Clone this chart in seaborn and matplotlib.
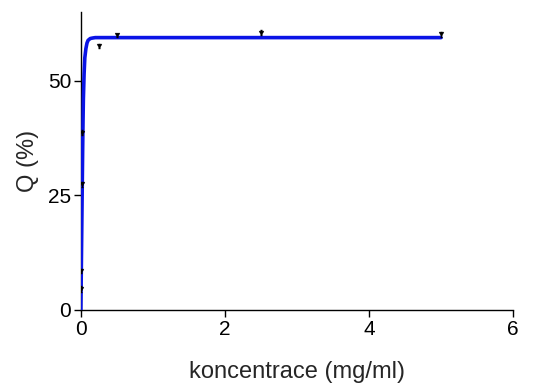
import numpy as np
import pandas as pd
import matplotlib
matplotlib.use("Agg")
import matplotlib.pyplot as plt
import seaborn as sns

# measured points
conc = [0.005, 0.008, 0.012, 0.018, 0.25, 0.5, 2.5, 5.0]
q_meas = [4.6, 8.5, 27.4, 38.7, 57.6, 59.9, 60.5, 60.1]
q_err = [0.6, 0.5, 0.6, 0.6, 0.4, 0.3, 0.5, 0.6]

# fitted curve
fit_x = [0.0, 0.005, 0.01, 0.015, 0.02, 0.025, 0.03, 0.035, 0.045, 0.055,
         0.07, 0.085, 0.1, 0.13, 0.16, 0.2, 0.3, 0.5, 1.0, 2.0, 5.0]
fit_y = [0.0, 7.0, 14.0, 21.0, 28.0, 35.0, 41.0, 46.0, 51.5, 55.0,
         57.0, 58.2, 58.8, 59.2, 59.3, 59.4, 59.4, 59.4, 59.4, 59.4, 59.4]

sns.set_style("ticks")
plt.rcParams['font.family'] = ['Liberation Sans', 'DejaVu Sans']

fig = plt.figure(figsize=(5.39, 3.85), dpi=100)
ax = fig.add_axes([0.150, 0.195, 0.802, 0.774])

fit_df = pd.DataFrame({"c": fit_x, "Q": fit_y})
pts_df = pd.DataFrame({"c": conc, "Q": q_meas})

sns.lineplot(data=fit_df, x="c", y="Q", ax=ax, color="#0a14e6", linewidth=2.6, zorder=3)
ax.errorbar(conc, q_meas, yerr=q_err, fmt="none", ecolor="black", elinewidth=0.8, capsize=1, zorder=4)
sns.scatterplot(data=pts_df, x="c", y="Q", ax=ax, marker="v", s=12, color="black",
                edgecolor="black", zorder=5)

ax.set_xlim(0, 6)
ax.set_ylim(0, 65)
ax.set_xticks([0, 2, 4, 6])
ax.set_yticks([0, 25, 50])
ax.set_xlabel("koncentrace (mg/ml)", fontsize=17, labelpad=16)
ax.set_ylabel("Q (%)", fontsize=17, labelpad=6)
ax.tick_params(labelsize=15, length=5, width=1, colors="black", pad=2)
for s in ["left", "bottom"]:
    ax.spines[s].set_linewidth(1)
    ax.spines[s].set_color("black")
sns.despine(ax=ax)

fig.savefig("out.png", dpi=100)
